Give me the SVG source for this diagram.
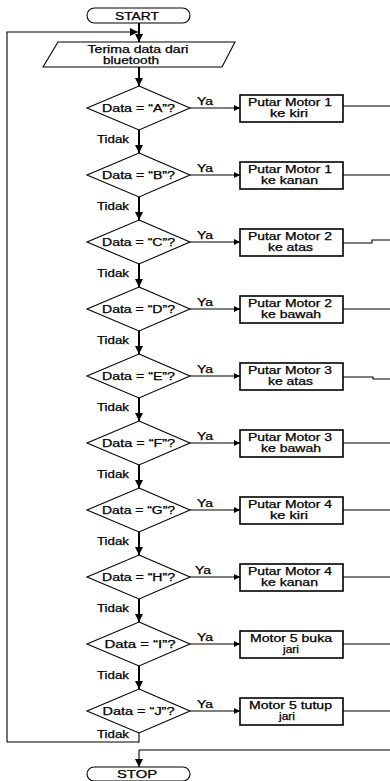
<svg xmlns="http://www.w3.org/2000/svg" width="390" height="781" viewBox="0 0 390 781">
<style>
text{font-family:"Liberation Sans",Arial,sans-serif;font-size:10px;font-weight:normal;fill:#000;stroke:#000;stroke-width:0.25;text-anchor:middle}
.shape{fill:#fff;stroke:#000;stroke-width:1.1}
.box{fill:#fff;stroke:#000;stroke-width:1.6}
.flow{fill:none;stroke:#000;stroke-width:2}
.thin{fill:none;stroke:#000;stroke-width:1.1}
.lbl{text-anchor:start}
</style>
<defs>
<marker id="av" viewBox="0 0 10 10" refX="10" refY="5" markerWidth="8" markerHeight="8" markerUnits="userSpaceOnUse" orient="auto"><path d="M0,0 L10,5 L0,10 z" fill="#000"/></marker>
<marker id="ah" viewBox="0 0 10 10" refX="10" refY="5" markerWidth="9" markerHeight="6" markerUnits="userSpaceOnUse" orient="auto"><path d="M0,0 L10,5 L0,10 z" fill="#000"/></marker>
</defs>
<g id="connectors">
<path class="flow" d="M139,23 V42" marker-end="url(#av)"/>
<path class="flow" d="M139,67 V86" marker-end="url(#av)"/>
<path class="flow" d="M139,130 V153" marker-end="url(#av)"/>
<path class="flow" d="M139,197 V220" marker-end="url(#av)"/>
<path class="flow" d="M139,264 V287" marker-end="url(#av)"/>
<path class="flow" d="M139,331 V354" marker-end="url(#av)"/>
<path class="flow" d="M139,398 V421" marker-end="url(#av)"/>
<path class="flow" d="M139,465 V488" marker-end="url(#av)"/>
<path class="flow" d="M139,532 V555" marker-end="url(#av)"/>
<path class="flow" d="M139,599 V622" marker-end="url(#av)"/>
<path class="flow" d="M139,666 V689" marker-end="url(#av)"/>
<path class="thin" d="M139,733 V742 H7 V32 H138" marker-end="url(#av)"/>
<path class="thin" d="M390,750 H139 V767" marker-end="url(#av)"/>
<path class="thin" d="M190,108 H240" marker-end="url(#ah)"/>
<path class="thin" d="M190,175 H240" marker-end="url(#ah)"/>
<path class="thin" d="M190,242 H240" marker-end="url(#ah)"/>
<path class="thin" d="M190,309 H240" marker-end="url(#ah)"/>
<path class="thin" d="M190,376 H240" marker-end="url(#ah)"/>
<path class="thin" d="M190,443 H240" marker-end="url(#ah)"/>
<path class="thin" d="M190,510 H240" marker-end="url(#ah)"/>
<path class="thin" d="M190,577 H240" marker-end="url(#ah)"/>
<path class="thin" d="M190,644 H240" marker-end="url(#ah)"/>
<path class="thin" d="M190,711 H240" marker-end="url(#ah)"/>
<path class="thin" d="M343,106 H390"/>
<path class="thin" d="M343,175 H390"/>
<path class="thin" d="M343,243 H372 V240 H390"/>
<path class="thin" d="M343,309 H390"/>
<path class="thin" d="M343,377 H373 V379 H390"/>
<path class="thin" d="M343,443 H390"/>
<path class="thin" d="M343,510 H390"/>
<path class="thin" d="M343,577 H390"/>
<path class="thin" d="M343,644 H390"/>
<path class="thin" d="M343,711 H390"/>
<text class="lbl" x="197" y="105" textLength="16" lengthAdjust="spacingAndGlyphs">Ya</text>
<text class="lbl" x="197" y="172" textLength="16" lengthAdjust="spacingAndGlyphs">Ya</text>
<text class="lbl" x="197" y="239" textLength="16" lengthAdjust="spacingAndGlyphs">Ya</text>
<text class="lbl" x="197" y="306" textLength="16" lengthAdjust="spacingAndGlyphs">Ya</text>
<text class="lbl" x="197" y="373" textLength="16" lengthAdjust="spacingAndGlyphs">Ya</text>
<text class="lbl" x="197" y="440" textLength="16" lengthAdjust="spacingAndGlyphs">Ya</text>
<text class="lbl" x="197" y="507" textLength="16" lengthAdjust="spacingAndGlyphs">Ya</text>
<text class="lbl" x="195" y="574" textLength="16" lengthAdjust="spacingAndGlyphs">Ya</text>
<text class="lbl" x="197" y="641" textLength="16" lengthAdjust="spacingAndGlyphs">Ya</text>
<text class="lbl" x="197" y="708" textLength="16" lengthAdjust="spacingAndGlyphs">Ya</text>
<text class="lbl" x="97" y="143" textLength="32" lengthAdjust="spacingAndGlyphs">Tidak</text>
<text class="lbl" x="97" y="210" textLength="32" lengthAdjust="spacingAndGlyphs">Tidak</text>
<text class="lbl" x="97" y="277" textLength="32" lengthAdjust="spacingAndGlyphs">Tidak</text>
<text class="lbl" x="97" y="344" textLength="32" lengthAdjust="spacingAndGlyphs">Tidak</text>
<text class="lbl" x="97" y="411" textLength="32" lengthAdjust="spacingAndGlyphs">Tidak</text>
<text class="lbl" x="97" y="478" textLength="32" lengthAdjust="spacingAndGlyphs">Tidak</text>
<text class="lbl" x="97" y="545" textLength="32" lengthAdjust="spacingAndGlyphs">Tidak</text>
<text class="lbl" x="97" y="612" textLength="32" lengthAdjust="spacingAndGlyphs">Tidak</text>
<text class="lbl" x="97" y="679" textLength="32" lengthAdjust="spacingAndGlyphs">Tidak</text>
<text class="lbl" x="97" y="738" textLength="32" lengthAdjust="spacingAndGlyphs">Tidak</text>
</g>
<g id="start">
<rect class="shape" x="87" y="8" width="103" height="15" rx="7.5"/>
<text x="137" y="19.5" textLength="44" lengthAdjust="spacingAndGlyphs">START</text>
</g>
<g id="input">
<polygon class="shape" points="58,42 235,42 222,67 43,67"/>
<text x="138" y="53" textLength="101" lengthAdjust="spacingAndGlyphs">Terima data dari</text>
<text x="131" y="63.5" textLength="56" lengthAdjust="spacingAndGlyphs">bluetooth</text>
</g>
<g id="decA"><polygon class="shape" points="139,86 190,108 139,130 87,108"/><text x="138.5" y="111.5" textLength="73" lengthAdjust="spacingAndGlyphs">Data = “A”?</text></g>
<g id="decB"><polygon class="shape" points="139,153 190,175 139,197 87,175"/><text x="138.5" y="178.5" textLength="73" lengthAdjust="spacingAndGlyphs">Data = “B”?</text></g>
<g id="decC"><polygon class="shape" points="139,220 190,242 139,264 87,242"/><text x="138.5" y="245.5" textLength="73" lengthAdjust="spacingAndGlyphs">Data = “C”?</text></g>
<g id="decD"><polygon class="shape" points="139,287 190,309 139,331 87,309"/><text x="138.5" y="312.5" textLength="73" lengthAdjust="spacingAndGlyphs">Data = “D”?</text></g>
<g id="decE"><polygon class="shape" points="139,354 190,376 139,398 87,376"/><text x="138.5" y="379.5" textLength="73" lengthAdjust="spacingAndGlyphs">Data = “E”?</text></g>
<g id="decF"><polygon class="shape" points="139,421 190,443 139,465 87,443"/><text x="138.5" y="446.5" textLength="73" lengthAdjust="spacingAndGlyphs">Data = “F”?</text></g>
<g id="decG"><polygon class="shape" points="139,488 190,510 139,532 87,510"/><text x="138.5" y="513.5" textLength="73" lengthAdjust="spacingAndGlyphs">Data = “G”?</text></g>
<g id="decH"><polygon class="shape" points="139,555 190,577 139,599 87,577"/><text x="138.5" y="580.5" textLength="73" lengthAdjust="spacingAndGlyphs">Data = “H”?</text></g>
<g id="decI"><polygon class="shape" points="139,622 190,644 139,666 87,644"/><text x="140" y="647.5" textLength="71" lengthAdjust="spacingAndGlyphs">Data = “I”?</text></g>
<g id="decJ"><polygon class="shape" points="139,689 190,711 139,733 87,711"/><text x="138.5" y="714.5" textLength="72" lengthAdjust="spacingAndGlyphs">Data = “J”?</text></g>
<g id="boxA"><rect class="box" x="240" y="95" width="103" height="27"/><text x="290" y="106" textLength="84" lengthAdjust="spacingAndGlyphs">Putar Motor 1</text><text x="289" y="116.5" textLength="38" lengthAdjust="spacingAndGlyphs">ke kiri</text></g>
<g id="boxB"><rect class="box" x="240" y="162" width="103" height="27"/><text x="290" y="173" textLength="84" lengthAdjust="spacingAndGlyphs">Putar Motor 1</text><text x="289.5" y="183.5" textLength="57" lengthAdjust="spacingAndGlyphs">ke kanan</text></g>
<g id="boxC"><rect class="box" x="240" y="229" width="103" height="27"/><text x="290" y="240" textLength="84" lengthAdjust="spacingAndGlyphs">Putar Motor 2</text><text x="290.5" y="250.5" textLength="45" lengthAdjust="spacingAndGlyphs">ke atas</text></g>
<g id="boxD"><rect class="box" x="240" y="296" width="103" height="27"/><text x="290" y="307" textLength="84" lengthAdjust="spacingAndGlyphs">Putar Motor 2</text><text x="291" y="317.5" textLength="60" lengthAdjust="spacingAndGlyphs">ke bawah</text></g>
<g id="boxE"><rect class="box" x="240" y="363" width="103" height="27"/><text x="290" y="374" textLength="84" lengthAdjust="spacingAndGlyphs">Putar Motor 3</text><text x="290.5" y="384.5" textLength="45" lengthAdjust="spacingAndGlyphs">ke atas</text></g>
<g id="boxF"><rect class="box" x="240" y="430" width="103" height="27"/><text x="290" y="441" textLength="84" lengthAdjust="spacingAndGlyphs">Putar Motor 3</text><text x="291" y="451.5" textLength="60" lengthAdjust="spacingAndGlyphs">ke bawah</text></g>
<g id="boxG"><rect class="box" x="240" y="497" width="103" height="27"/><text x="290" y="508" textLength="84" lengthAdjust="spacingAndGlyphs">Putar Motor 4</text><text x="289" y="518.5" textLength="38" lengthAdjust="spacingAndGlyphs">ke kiri</text></g>
<g id="boxH"><rect class="box" x="240" y="564" width="103" height="27"/><text x="290" y="575" textLength="84" lengthAdjust="spacingAndGlyphs">Putar Motor 4</text><text x="289.5" y="585.5" textLength="57" lengthAdjust="spacingAndGlyphs">ke kanan</text></g>
<g id="boxI"><rect class="box" x="240" y="631" width="103" height="27"/><text x="291" y="642" textLength="82" lengthAdjust="spacingAndGlyphs">Motor 5 buka</text><text x="291" y="652.5" textLength="16" lengthAdjust="spacingAndGlyphs">jari</text></g>
<g id="boxJ"><rect class="box" x="240" y="698" width="103" height="27"/><text x="290.5" y="709" textLength="83" lengthAdjust="spacingAndGlyphs">Motor 5 tutup</text><text x="287" y="719.5" textLength="16" lengthAdjust="spacingAndGlyphs">jari</text></g>
<g id="stop">
<rect class="shape" x="87" y="767" width="103" height="14" rx="7"/>
<text x="137" y="777.5" textLength="40" lengthAdjust="spacingAndGlyphs">STOP</text>
</g>
</svg>
